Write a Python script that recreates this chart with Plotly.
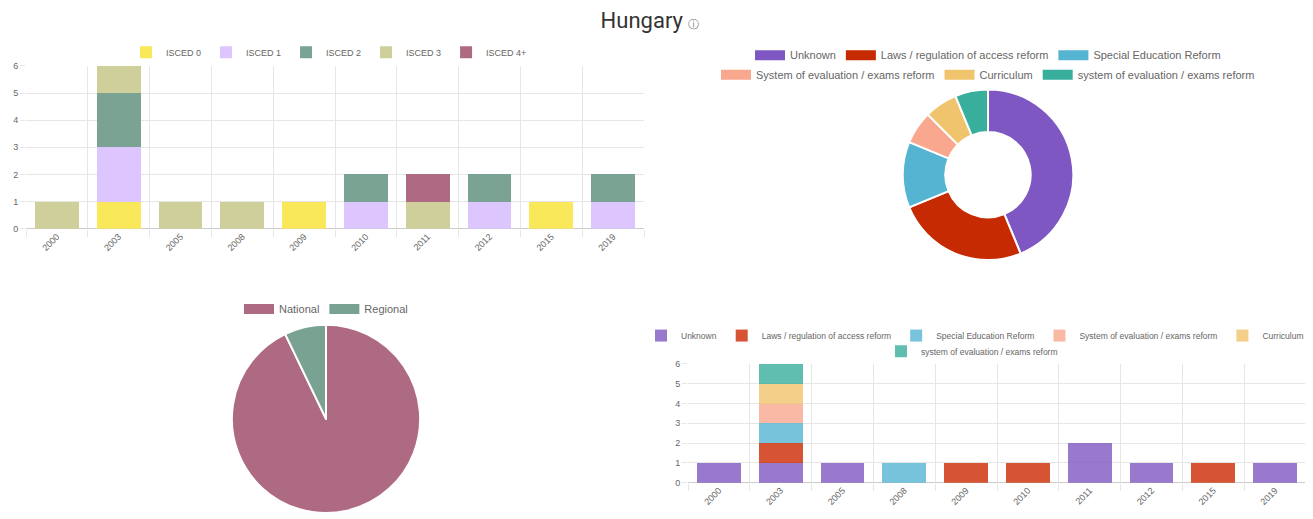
import plotly.graph_objects as go

years = ["2000", "2003", "2005", "2008", "2009", "2010", "2011", "2012", "2015", "2019"]

# ISCED levels per year (top left)
isced_names = ["ISCED 0", "ISCED 1", "ISCED 2", "ISCED 3", "ISCED 4+"]
isced_0 = [0, 1, 0, 0, 1, 0, 0, 0, 1, 0]
isced_1 = [0, 2, 0, 0, 0, 1, 0, 1, 0, 1]
isced_2 = [0, 2, 0, 0, 0, 1, 0, 1, 0, 1]
isced_3 = [1, 1, 1, 1, 0, 0, 1, 0, 0, 0]
isced_4 = [0, 0, 0, 0, 0, 0, 1, 0, 0, 0]
isced_colors = ["#f8e85a", "#dcc6fd", "#7aa393", "#cfcf9b", "#ae6a82"]

# reform types
reform_names = ["Unknown", "Laws / regulation of access reform", "Special Education Reform",
                "System of evaluation / exams reform", "Curriculum",
                "system of evaluation / exams reform"]
reform_totals = [7, 4, 2, 1, 1, 1]
reform_colors = ["#7e57c2", "#c62a02", "#56b4d3", "#f9a88f", "#f0c36d", "#38ae9c"]
reform_bar_colors = ["rgba(126,87,194,0.8)", "rgba(204,41,0,0.8)", "rgba(86,180,211,0.8)",
                     "rgba(249,168,143,0.8)", "rgba(240,195,109,0.8)", "rgba(56,174,156,0.8)"]
unknown = [1, 1, 1, 0, 0, 0, 2, 1, 0, 1]
laws = [0, 1, 0, 0, 1, 1, 0, 0, 1, 0]
special = [0, 1, 0, 1, 0, 0, 0, 0, 0, 0]
system_eval = [0, 1, 0, 0, 0, 0, 0, 0, 0, 0]
curriculum = [0, 1, 0, 0, 0, 0, 0, 0, 0, 0]
system_eval2 = [0, 1, 0, 0, 0, 0, 0, 0, 0, 0]

# scope
scope_names = ["National", "Regional"]
scope_values = [13, 1]
scope_colors = ["#ae6a82", "#7aa292"]

# page body has an 8px margin, so the figure is a bit smaller and shifted
OFF = 8
W, H = 1305, 511
FONT = "Liberation Sans, Arial, sans-serif"
GRID = "#e6e6e6"
TXT = "#666666"


def px_x(p):
    return (p - OFF) / W


def px_y(p):
    return 1 - (p - OFF) / H


fig = go.Figure()

# top left stacked bars
for name, vals, col in zip(isced_names, [isced_0, isced_1, isced_2, isced_3, isced_4], isced_colors):
    fig.add_trace(go.Bar(x=years, y=vals, name=name, marker=dict(color=col, line=dict(width=0)),
                         xaxis="x", yaxis="y", legend="legend"))

# donut
fig.add_trace(go.Pie(labels=reform_names, values=reform_totals, hole=0.5, sort=False,
                     direction="clockwise", rotation=0, textinfo="none", showlegend=False,
                     marker=dict(colors=reform_colors, line=dict(color="white", width=2)),
                     domain=dict(x=[px_x(901), px_x(1075)], y=[px_y(260), px_y(86)])))
for i, (name, col) in enumerate(zip(reform_names, reform_colors)):
    fig.add_trace(go.Scatter(x=[None], y=[None], mode="lines", name=name,
                             line=dict(color=col, width=10), xaxis="x", yaxis="y",
                             legend="legend2" if i < 3 else "legend3"))

# pie national / regional
fig.add_trace(go.Pie(labels=scope_names, values=scope_values, sort=False,
                     direction="clockwise", rotation=0, textinfo="none", showlegend=False,
                     marker=dict(colors=scope_colors, line=dict(color="white", width=2)),
                     domain=dict(x=[px_x(230), px_x(422)], y=[px_y(518), px_y(326)])))
for name, col in zip(scope_names, scope_colors):
    fig.add_trace(go.Scatter(x=[None], y=[None], mode="lines", name=name,
                             line=dict(color=col, width=10), xaxis="x", yaxis="y",
                             legend="legend4"))

# bottom right stacked bars
reform_series = [unknown, laws, special, system_eval, curriculum, system_eval2]
for i, (name, vals, col) in enumerate(zip(reform_names, reform_series, reform_bar_colors)):
    fig.add_trace(go.Bar(x=years, y=vals, name=name, marker=dict(color=col, line=dict(width=0)),
                         xaxis="x2", yaxis="y2", legend="legend5" if i < 5 else "legend6"))

xax = dict(type="category", tickson="boundaries", showgrid=True, gridcolor=GRID,
           ticks="outside", ticklen=7, tickcolor=GRID, tickangle=-45,
           tickfont=dict(size=9, color=TXT), showline=False, zeroline=False, fixedrange=True)
yax = dict(range=[0, 6], dtick=1, showgrid=True, gridcolor=GRID, zeroline=True,
           zerolinecolor="#cccccc", zerolinewidth=1, ticks="outside", ticklen=5,
           tickcolor=GRID, tickfont=dict(size=9, color=TXT), showline=False)


def legend_box(x, y, size):
    return dict(orientation="h", x=x, y=y, xanchor="center", yanchor="middle",
                font=dict(size=size, color=TXT, family=FONT), bgcolor="rgba(0,0,0,0)",
                traceorder="normal", itemclick=False, itemdoubleclick=False)


fig.update_layout(
    width=W, height=H,
    margin=dict(l=0, r=0, t=0, b=0),
    paper_bgcolor="white", plot_bgcolor="white",
    font=dict(family=FONT, color=TXT),
    barmode="stack", bargap=0.29,
    title=dict(text="Hungary <span style='font-size:11px;color:#777'>ⓘ</span>",
               x=px_x(650), xanchor="center", y=px_y(20.5), yanchor="middle",
               font=dict(family="Roboto, sans-serif", size=22, color="#333333")),
    xaxis=dict(xax, domain=[px_x(26), px_x(644)], anchor="y"),
    yaxis=dict(yax, domain=[px_y(228), px_y(62)], anchor="x"),
    xaxis2=dict(xax, domain=[px_x(688), px_x(1306)], anchor="y2"),
    yaxis2=dict(yax, domain=[px_y(487), px_y(366)], anchor="x2"),
    legend=legend_box(px_x(329), px_y(48), 9),
    legend2=legend_box(px_x(988), px_y(51), 11),
    legend3=legend_box(px_x(988), px_y(71), 11),
    legend4=legend_box(px_x(326), px_y(310), 11),
    legend5=legend_box(px_x(975), px_y(337), 8.5),
    legend6=legend_box(px_x(972), px_y(353), 8.5),
)

fig.write_html("out.html")
